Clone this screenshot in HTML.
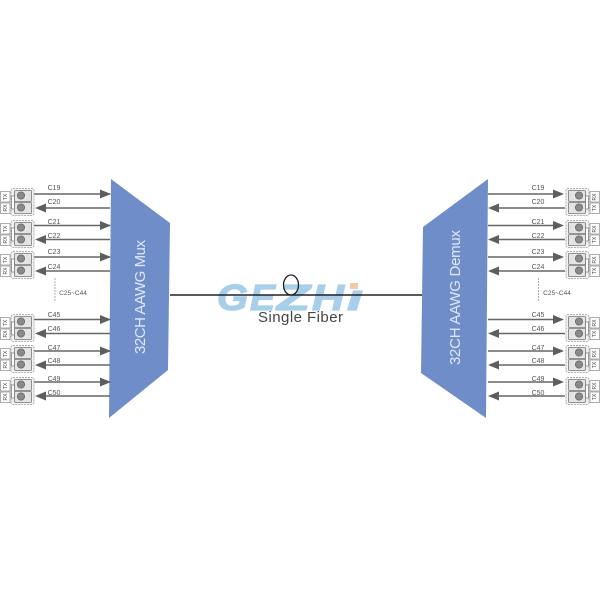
<!DOCTYPE html>
<html><head><meta charset="utf-8"><style>
html,body{margin:0;padding:0;background:#fff}
svg{display:block;filter:blur(0.35px)}
text{font-family:"Liberation Sans",sans-serif}
.c{font-size:7px;fill:#555;text-anchor:middle}
.t{font-size:5px;fill:#444;text-anchor:middle}
.l{font-size:36px;font-weight:bold;font-style:italic;fill:#a8cfea;stroke:#a8cfea;stroke-width:1.2;}
</style></head><body>
<svg width="600" height="600" viewBox="0 0 600 600" xmlns="http://www.w3.org/2000/svg">
<defs>
<g id="mod">
<rect x="1" y="0.5" width="23" height="27" rx="2" fill="#f2f2f2" stroke="#999" stroke-width="0.8" stroke-dasharray="2 1"/>
<rect x="1.500" y="8" width="3" height="13" fill="#fff" stroke="#777" stroke-width="0.7"/>
<rect x="4.500" y="2.500" width="17" height="11" rx="1" fill="#e4e4e4" stroke="#777" stroke-width="0.8"/>
<rect x="4.500" y="14.500" width="17" height="11" rx="1" fill="#e4e4e4" stroke="#777" stroke-width="0.8"/>
<circle cx="11" cy="7.500" r="3.600" fill="#8a8a8a" stroke="#666" stroke-width="0.8"/>
<circle cx="11" cy="19.500" r="3.600" fill="#8a8a8a" stroke="#666" stroke-width="0.8"/>
</g>
<g id="boxL"><rect x="0.500" y="3.500" width="9.500" height="10.500" fill="#fff" stroke="#999" stroke-width="0.8"/><rect x="0.500" y="15" width="9.500" height="10.500" fill="#fff" stroke="#999" stroke-width="0.8"/></g>
<g id="arrL">
<line x1="34" y1="0" x2="110" y2="0" stroke="#666" stroke-width="1.500"/>
<polygon points="100,-4.500 111,0 100,4.500" fill="#5e5e5e"/>
<line x1="46" y1="14" x2="110" y2="14" stroke="#666" stroke-width="1.500"/>
<polygon points="35,14 46,9.500 46,18.500" fill="#5e5e5e"/>
</g>
<g id="arrR">
<line x1="488" y1="0" x2="556" y2="0" stroke="#666" stroke-width="1.500"/>
<polygon points="553,-4.500 564,0 553,4.500" fill="#5e5e5e"/>
<line x1="498" y1="14" x2="565" y2="14" stroke="#666" stroke-width="1.500"/>
<polygon points="488,14 499,9.500 499,18.500" fill="#5e5e5e"/>
</g>
</defs>

<!-- logo -->
<text class="l" x="217" y="310" textLength="31" lengthAdjust="spacingAndGlyphs">G</text>
<text class="l" x="250" y="310" textLength="25" lengthAdjust="spacingAndGlyphs">E</text>
<text class="l" x="277" y="310" textLength="33" lengthAdjust="spacingAndGlyphs">Z</text>
<text class="l" x="312" y="310" textLength="32" lengthAdjust="spacingAndGlyphs">H</text>
<text class="l" x="347" y="310" textLength="16" lengthAdjust="spacingAndGlyphs">ı</text>
<rect x="350" y="283" width="8" height="6" fill="#f2c9a8"/>

<!-- fiber -->
<line x1="170" y1="295" x2="423" y2="295" stroke="#222" stroke-width="1.500"/>
<ellipse cx="291" cy="285" rx="7.500" ry="10" fill="none" stroke="#222" stroke-width="1.300"/>
<text x="300.500" y="322" font-size="15" fill="#444" text-anchor="middle" textLength="85">Single Fiber</text>

<!-- trapezoids -->
<polygon points="111,179 170,223 168,370 109,418" fill="#6f8ec9"/>
<polygon points="488,179 423,227 421,373 486,418" fill="#6f8ec9"/>
<text transform="translate(145,354) rotate(-90)" font-size="15" fill="#dfe8f6" textLength="114">32CH AAWG Mux</text>
<text transform="translate(460,365) rotate(-90)" font-size="15" fill="#dfe8f6" textLength="135">32CH AAWG Demux</text>

<!-- left arrows -->
<use href="#arrL" y="194"/><use href="#arrL" y="225.500"/><use href="#arrL" y="257"/>
<use href="#arrL" y="319.500"/><use href="#arrL" y="351"/><use href="#arrL" y="382"/>
<!-- right arrows -->
<use href="#arrR" y="194"/><use href="#arrR" y="225.500"/><use href="#arrR" y="257"/>
<use href="#arrR" y="319.500"/><use href="#arrR" y="351"/><use href="#arrR" y="382"/>

<!-- left connectors -->
<g>
<use href="#boxL" y="188"/><use href="#mod" x="10" y="188"/>
<use href="#boxL" y="220"/><use href="#mod" x="10" y="220"/>
<use href="#boxL" y="251"/><use href="#mod" x="10" y="251"/>
<use href="#boxL" y="314"/><use href="#mod" x="10" y="314"/>
<use href="#boxL" y="345"/><use href="#mod" x="10" y="345"/>
<use href="#boxL" y="377"/><use href="#mod" x="10" y="377"/>
</g>
<g class="t">
<text transform="translate(7,197) rotate(-90)" text-anchor="middle">TX</text><text transform="translate(7,208) rotate(-90)" text-anchor="middle">RX</text>
<text transform="translate(7,229) rotate(-90)" text-anchor="middle">TX</text><text transform="translate(7,240) rotate(-90)" text-anchor="middle">RX</text>
<text transform="translate(7,260) rotate(-90)" text-anchor="middle">TX</text><text transform="translate(7,271) rotate(-90)" text-anchor="middle">RX</text>
<text transform="translate(7,323) rotate(-90)" text-anchor="middle">TX</text><text transform="translate(7,334) rotate(-90)" text-anchor="middle">RX</text>
<text transform="translate(7,354) rotate(-90)" text-anchor="middle">TX</text><text transform="translate(7,365) rotate(-90)" text-anchor="middle">RX</text>
<text transform="translate(7,386) rotate(-90)" text-anchor="middle">TX</text><text transform="translate(7,397) rotate(-90)" text-anchor="middle">RX</text>
</g>

<!-- right connectors (mirrored) -->
<g transform="translate(600,0) scale(-1,1)">
<use href="#boxL" y="188"/><use href="#mod" x="10" y="188"/>
<use href="#boxL" y="220"/><use href="#mod" x="10" y="220"/>
<use href="#boxL" y="251"/><use href="#mod" x="10" y="251"/>
<use href="#boxL" y="314"/><use href="#mod" x="10" y="314"/>
<use href="#boxL" y="345"/><use href="#mod" x="10" y="345"/>
<use href="#boxL" y="377"/><use href="#mod" x="10" y="377"/>
</g>
<g class="t">
<text transform="translate(596,197) rotate(-90)" text-anchor="middle">RX</text><text transform="translate(596,208) rotate(-90)" text-anchor="middle">TX</text>
<text transform="translate(596,229) rotate(-90)" text-anchor="middle">RX</text><text transform="translate(596,240) rotate(-90)" text-anchor="middle">TX</text>
<text transform="translate(596,260) rotate(-90)" text-anchor="middle">RX</text><text transform="translate(596,271) rotate(-90)" text-anchor="middle">TX</text>
<text transform="translate(596,323) rotate(-90)" text-anchor="middle">RX</text><text transform="translate(596,334) rotate(-90)" text-anchor="middle">TX</text>
<text transform="translate(596,354) rotate(-90)" text-anchor="middle">RX</text><text transform="translate(596,365) rotate(-90)" text-anchor="middle">TX</text>
<text transform="translate(596,386) rotate(-90)" text-anchor="middle">RX</text><text transform="translate(596,397) rotate(-90)" text-anchor="middle">TX</text>
</g>

<!-- left labels -->
<text class="c" x="54" y="190">C19</text><text class="c" x="54" y="204">C20</text>
<text class="c" x="54" y="224">C21</text><text class="c" x="54" y="238">C22</text>
<text class="c" x="54" y="254">C23</text><text class="c" x="54" y="269">C24</text>
<text class="c" x="54" y="317">C45</text><text class="c" x="54" y="331">C46</text>
<text class="c" x="54" y="350">C47</text><text class="c" x="54" y="363">C48</text>
<text class="c" x="54" y="381">C49</text><text class="c" x="54" y="395">C50</text>
<!-- right labels -->
<text class="c" x="538" y="190">C19</text><text class="c" x="538" y="204">C20</text>
<text class="c" x="538" y="224">C21</text><text class="c" x="538" y="238">C22</text>
<text class="c" x="538" y="254">C23</text><text class="c" x="538" y="269">C24</text>
<text class="c" x="538" y="317">C45</text><text class="c" x="538" y="331">C46</text>
<text class="c" x="538" y="350">C47</text><text class="c" x="538" y="363">C48</text>
<text class="c" x="538" y="381">C49</text><text class="c" x="538" y="395">C50</text>

<!-- middle notes -->
<line x1="55" y1="278" x2="55" y2="302" stroke="#888" stroke-width="0.700" stroke-dasharray="2 1"/>
<text class="c" x="73" y="295" style="font-size:6.500px">C25~C44</text>
<line x1="538.500" y1="278" x2="538.500" y2="302" stroke="#888" stroke-width="0.700" stroke-dasharray="2 1"/>
<text class="c" x="557" y="295" style="font-size:6.500px">C25~C44</text>
</svg>
</body></html>
